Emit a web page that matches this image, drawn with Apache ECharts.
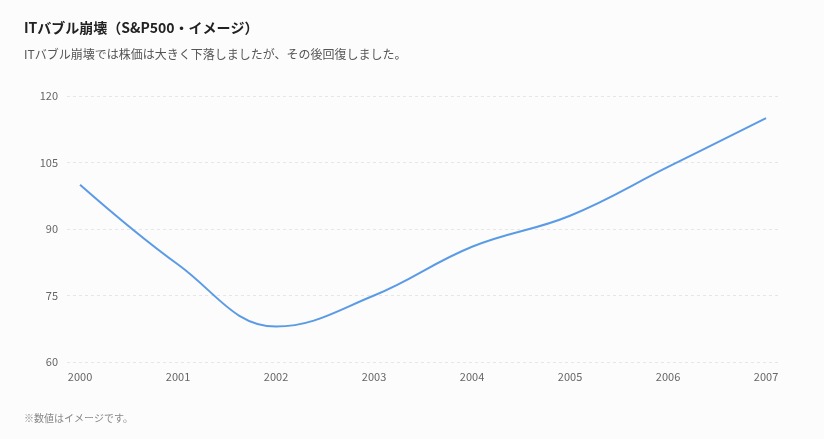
<!DOCTYPE html>
<html>
<head>
<meta charset="utf-8">
<script src="https://cdn.jsdelivr.net/npm/echarts@6/dist/echarts.min.js"></script>
<style>
html, body { margin: 0; padding: 0; background: #fcfcfd; }
#chartDiv { width: 824px; height: 439px; }
</style>
</head>
<body>
<div id="chartDiv"></div>
<script>
// 年と指数（イメージ）
var years = [2000, 2001, 2002, 2003, 2004, 2005, 2006, 2007];
var values = [100, 82, 68, 75, 86, 93, 104, 115];
var yTicks = [60, 75, 90, 105, 120];

var FONT = '"Noto Sans CJK JP", "Noto Sans", sans-serif';

var chartDiv = echarts.init(document.getElementById("chartDiv"));

var seriesData = [];
for (var i = 0; i < years.length; i++) {
    seriesData.push([years[i], values[i]]);
}

var option = {
    backgroundColor: '#fcfcfd',
    textStyle: { fontFamily: FONT },
    title: [{
        text: 'ITバブル崩壊（S&P500・イメージ）',
        left: 19, top: 16,
        textStyle: { fontSize: 14, fontWeight: 'bold', color: '#222', fontFamily: FONT }
    }, {
        text: 'ITバブル崩壊では株価は大きく下落しましたが、その後回復しました。',
        left: 19, top: 43,
        textStyle: { fontSize: 12, fontWeight: 'normal', color: '#555', fontFamily: FONT }
    }, {
        text: '※数値はイメージです。',
        left: 19, top: 408,
        textStyle: { fontSize: 10, fontWeight: 'normal', color: '#888', fontFamily: FONT }
    }],
    grid: { left: 67, right: 46, top: 96, bottom: 77 },
    xAxis: {
        type: 'value',
        min: 1999.867,
        max: 2007.122,
        axisLine: { show: false },
        axisTick: { show: false },
        splitLine: { show: false },
        axisLabel: {
            customValues: years,
            color: '#666', fontSize: 11, margin: 9, fontFamily: FONT,
            formatter: function (v) { return String(Math.round(v)); }
        }
    },
    yAxis: {
        type: 'value',
        min: yTicks[0],
        max: yTicks[yTicks.length - 1],
        interval: 15,
        axisLine: { show: false },
        axisTick: { show: false },
        axisLabel: { color: '#666', fontSize: 11, margin: 9, fontFamily: FONT },
        splitLine: { lineStyle: { color: '#e6e6e6', type: [3, 3] } }
    },
    series: [{
        type: 'line',
        data: seriesData,
        smooth: 0.4,
        showSymbol: false,
        lineStyle: { color: '#5b9be6', width: 2 }
    }]
};

chartDiv.setOption(option);
</script>
</body>
</html>
